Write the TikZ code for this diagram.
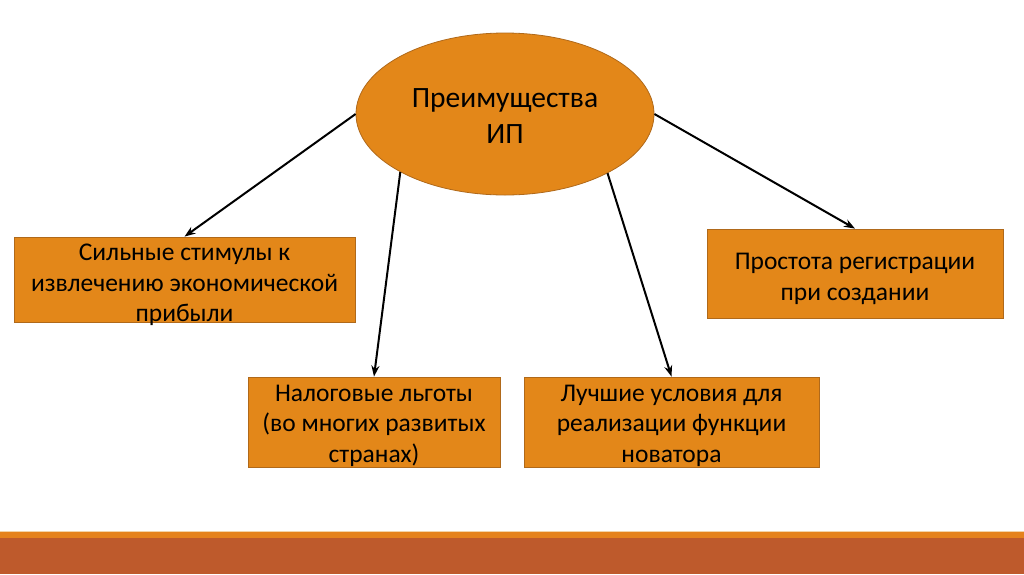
\documentclass[tikz,border=0pt]{standalone}
\usepackage{fontspec}
\setmainfont{Carlito}
\usetikzlibrary{shapes.geometric,arrows.meta}
\definecolor{boxorange}{HTML}{E38719}
\definecolor{boxedge}{HTML}{B0691A}
\definecolor{barorange}{HTML}{E5821D}
\definecolor{barpale}{HTML}{F3D3A8}
\definecolor{rust}{HTML}{BE5A2C}
\tikzset{
  box/.style={draw=boxedge, line width=0.8pt, fill=boxorange, rectangle, inner sep=0pt},
  boxtext/.style={inner sep=0pt, align=center, font=\fontsize{25.5}{30.5}\selectfont},
  conn/.style={line width=2pt, draw=black, -{Stealth[length=11pt,width=8pt]}},
}
\begin{document}
\begin{tikzpicture}[x=1pt,y=-1pt]
\useasboundingbox (0,0) rectangle (1024,574);
\fill[white] (0,0) rectangle (1024,574);
% bottom bars
\fill[barpale] (0,530.5) rectangle (1024,532.5);
\fill[barorange] (0,532) rectangle (1024,537.5);
\fill[rust] (0,537.5) rectangle (1024,574);
% nodes
\node[ellipse, draw=boxedge, line width=0.8pt, fill=boxorange, minimum width=298pt, minimum height=162pt, inner sep=0pt] (e) at (505,114) {};
\node[boxtext, font=\fontsize{29.5}{36}\selectfont] (et) at ([yshift=-2pt]e.center) {Преимущества\\ИП};
\node[box, minimum width=341pt, minimum height=85pt] (l) at (184.5,279.5) {};
\node[boxtext] (lt) at ([yshift=-5.5pt]l.center) {Сильные стимулы к\\извлечению экономической\\прибыли};
\node[box, minimum width=296pt, minimum height=89pt] (r) at (855,273.5) {};
\node[boxtext] (rt) at ([yshift=-5.5pt]r.center) {Простота регистрации\\при создании};
\node[box, minimum width=252pt, minimum height=90pt] (bl) at (374,422) {};
\node[boxtext] (blt) at ([yshift=-3.5pt]bl.center) {Налоговые льготы\\(во многих развитых\\странах)};
\node[box, minimum width=295pt, minimum height=90pt] (br) at (671.5,422) {};
\node[boxtext] (brt) at ([yshift=-3.5pt]br.center) {Лучшие условия для\\реализации функции\\новатора};
% connectors
\draw[conn] (e.180) -- (l.north);
\draw[conn] (e.209) -- (bl.north);
\draw[conn] (e.330) -- (br.north);
\draw[conn] (e.0) -- (r.north);
\end{tikzpicture}
\end{document}
